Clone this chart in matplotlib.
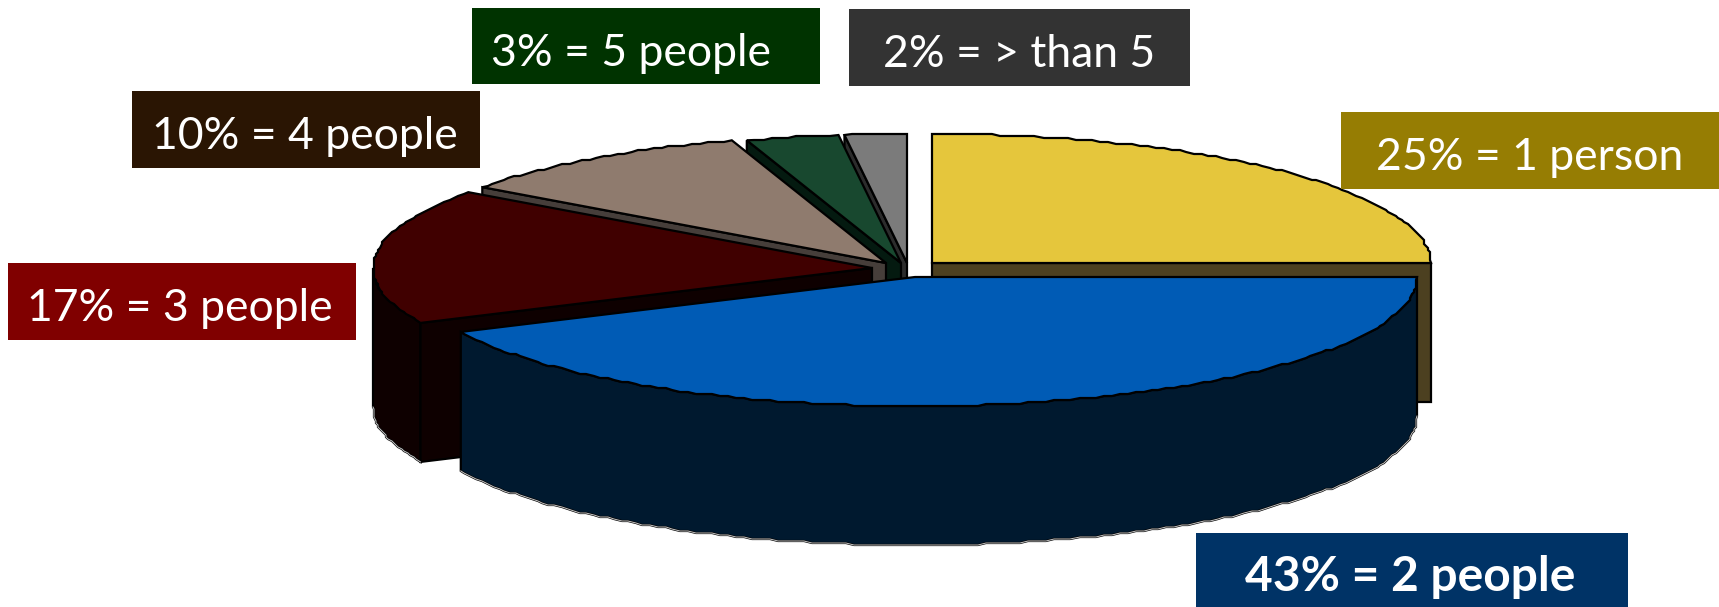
import numpy as np
import matplotlib
matplotlib.use('Agg')
import matplotlib.pyplot as plt
from matplotlib.patches import Polygon, Rectangle

# share of respondents per household size, clockwise from 12 o'clock
labels = ['25% = 1 person', '43% = 2 people', '17% = 3 people',
          '10% = 4 people', '3% = 5 people', '2% = > than 5']
values = [25, 43, 17, 10, 3, 2]

top_colors = ['#E5C63C', '#005BB5', '#400000', '#8F7B6E', '#18482F', '#7B7B7B']
wall_colors = ['#4C4020', '#00192F', '#0E0000', '#463E3A', '#041A10', '#2C2C2C']
box_colors = ['#967D03', '#003366', '#800000', '#2A1503', '#003300', '#333333']

# apex and half width of each exploded slice, in image pixels
apex_x = [932, 915, 872, 886, 901, 907]
apex_y = [263, 277, 268, 263, 263, 263]
A = [499, 502, 499, 499, 499, 499]
B = 129
DEPTH = 139

# x0, y0, x1, y1 of the label boxes, and how far the text sits from their centre
boxes = [(1341, 112, 1719, 189), (1196, 533, 1628, 607), (8, 263, 356, 340),
         (132, 91, 480, 168), (472, 8, 820, 84), (849, 9, 1190, 86)]
text_dx = [0, -2, -2, -1, -15, 0]


def rim(i, phi):
    """
    point on the ellipse of slice i, phi in degrees clockwise from north
    """
    p = np.radians(phi)
    x = apex_x[i] + A[i]*np.sin(p)
    y = apex_y[i] - B*np.cos(p)
    return x, y


def stepped(x, y, step=2.0):
    """
    the original rim is jagged, so snap the inner points to a pixel grid
    """
    x, y = np.array(x), np.array(y)
    sx = x.copy()
    sy = y.copy()
    sx[1:-1] = np.round(x[1:-1]/step)*step
    sy[1:-1] = np.round(y[1:-1]/step)*step
    return sx, sy


def wall(ax, xs, ys, col):
    """
    vertical side below a run of top edge points
    """
    pts = list(zip(xs, ys)) + list(zip(xs[::-1], [y + DEPTH for y in ys[::-1]]))
    ax.add_patch(Polygon(pts, closed=True, fc=col, ec='k', lw=1.6))


def curved_wall(ax, i, start, stop):
    phi = np.linspace(start, stop, 2 + int(stop - start))
    x, y = stepped(*rim(i, phi))
    wall(ax, list(x), list(y), wall_colors[i])
    # pale highlight along the lower rim
    ax.plot(x, y + DEPTH, c='#C8C8C8', lw=0.7)


def slice3d(ax, i, start, stop):
    """
    one exploded slice, sides first and then the top
    """
    x0, y0 = rim(i, start)
    x1, y1 = rim(i, stop)
    if stop <= 90:
        wall(ax, [apex_x[i], x1], [apex_y[i], y1], wall_colors[i])
    elif start >= 90 and stop <= 270:
        curved_wall(ax, i, start, stop)
    else:
        if start < 270:
            curved_wall(ax, i, start, 270)
        wall(ax, [apex_x[i], x0], [apex_y[i], y0], wall_colors[i])

    phi = np.linspace(start, stop, 2 + int(stop - start))
    x, y = stepped(*rim(i, phi))
    pts = [(apex_x[i], apex_y[i])] + list(zip(x, y))
    ax.add_patch(Polygon(pts, closed=True, fc=top_colors[i], ec='k', lw=1.6,
                         joinstyle='miter'))


fig = plt.figure(figsize=(17.19, 6.07), dpi=100)
ax = fig.add_axes([0, 0, 1, 1])
ax.set_xlim(0, 1719)
ax.set_ylim(607, 0)
ax.axis('off')

edges = np.concatenate([[0], np.cumsum(values)]) * 360 / sum(values)

# back to front, the blue slice sits over everything else
for i in [0, 5, 4, 3, 2, 1]:
    slice3d(ax, i, edges[i], edges[i+1])

for i, lab in enumerate(labels):
    x0, y0, x1, y1 = boxes[i]
    ax.add_patch(Rectangle((x0, y0), x1-x0, y1-y0, fc=box_colors[i], ec='none', zorder=5))
    bold = i == 1
    ax.text((x0+x1)/2 + text_dx[i], (y0+y1)/2 + 3, lab, color='white', ha='center',
            va='center_baseline', family='Lato', fontsize=34.5 if bold else 32,
            fontweight='bold' if bold else 'normal', zorder=6)

fig.savefig('out.png', dpi=100)
